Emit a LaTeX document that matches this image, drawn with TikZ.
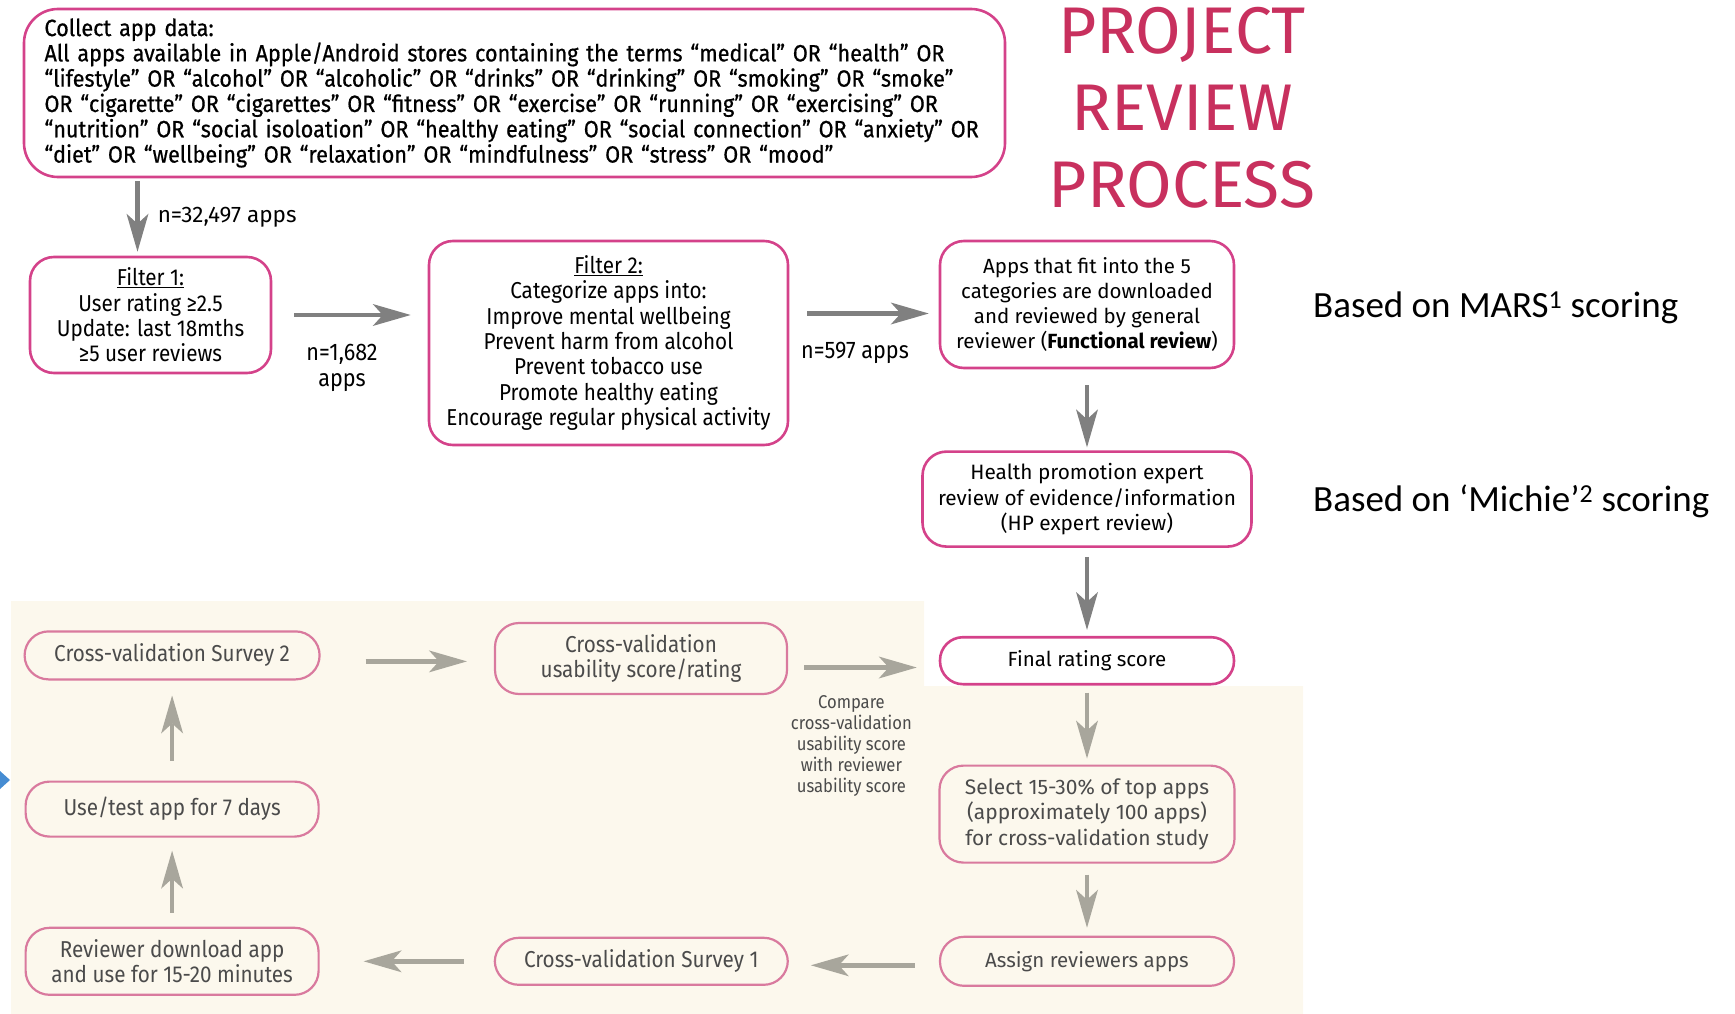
\documentclass[tikz,border=0pt]{standalone}
\usepackage{fontspec}
\setmainfont{Fira Sans}
\newfontfamily\condfont{Fira Sans}[FakeStretch=0.9]
\newfontfamily\condboldfont{Fira Sans}[FakeStretch=0.92,FakeBold=0.6]
\newfontfamily\notefont{Carlito}
\usetikzlibrary{positioning}
\usetikzlibrary{arrows.meta}
\definecolor{boxpink}{RGB}{212,66,138}
\definecolor{softpink}{RGB}{217,122,158}
\definecolor{titlered}{RGB}{200,48,94}
\definecolor{arrowgray}{RGB}{128,128,128}
\definecolor{sandgray}{RGB}{168,166,156}
\definecolor{sand}{RGB}{252,248,237}
\definecolor{textgray}{RGB}{75,75,75}
\definecolor{tipblue}{RGB}{70,140,210}

\begin{document}
\begin{tikzpicture}[x=1pt,y=-1pt,node distance=80pt,
  box/.style={draw=boxpink,line width=2.6pt,rounded corners=24pt,align=center,inner sep=0pt},
  cbox/.style={box,draw=softpink,line width=2.2pt,text=textgray},
  arr/.style={draw=arrowgray,line width=4.5pt,-{Stealth[length=38pt,width=22pt,inset=10pt,line width=0pt]}},
  sarr/.style={arr,draw=sandgray},
  lab/.style={inner sep=0pt,align=center}]
  \useasboundingbox (0,0) rectangle (1735,1014);
  % cross-validation area
  \fill[sand] (11,601) -- (924,601) -- (924,686) -- (1303,686) -- (1303,1014) -- (11,1014) -- cycle;
  \fill[tipblue] (0,771) -- (10,780) -- (0,789) -- cycle;

  \node[box,rounded corners=34pt,minimum width=981pt,minimum height=168pt,text width=940pt,align=left,
    font=\condboldfont\fontsize{23.5}{25.3}\selectfont](collect) at (514.5,93) {Collect app data:\\
    All apps available in Apple/Android stores containing the terms “medical” OR “health” OR\\
    “lifestyle” OR “alcohol” OR “alcoholic” OR “drinks” OR “drinking” OR “smoking” OR “smoke”\\
    OR “cigarette” OR “cigarettes” OR “fitness” OR “exercise” OR “running” OR “exercising” OR\\
    “nutrition” OR “social isoloation” OR “healthy eating” OR “social connection” OR “anxiety” OR\\
    “diet” OR “wellbeing” OR “relaxation” OR “mindfulness” OR “stress” OR “mood”};
  \node[text=titlered,align=center,inner sep=0pt,font=\fontsize{66}{77}\selectfont](title) at (1182,108) {PROJECT\\REVIEW\\PROCESS};

  \node[box,minimum width=241pt,minimum height=116pt,font=\condfont\fontsize{23}{25.3}\selectfont](filterone) at (150.5,315)
    {\underline{Filter 1:}\\User rating ≥2.5\\Update: last 18mths\\≥5 user reviews};
  \node[box,minimum width=359pt,minimum height=204pt,font=\condfont\fontsize{23}{25.3}\selectfont](filtertwo) at (608.5,343)
    {\underline{Filter 2:}\\Categorize apps into:\\Improve mental wellbeing\\Prevent harm from alcohol\\Prevent tobacco use\\Promote healthy eating\\Encourage regular physical activity};
  \node[box,minimum width=294pt,minimum height=127pt,font=\fontsize{20.5}{25.3}\selectfont](functional) at (1087,304.5)
    {Apps that fit into the 5\\categories are downloaded\\and reviewed by general\\reviewer (\textbf{Functional review})};
  \node[box,below=81pt of functional,minimum width=329pt,minimum height=95pt,font=\fontsize{20.8}{25.3}\selectfont](hpreview)
    {Health promotion expert\\review of evidence/information\\(HP expert review)};
  \node[box,below=88pt of hpreview,fill=white,rounded corners=23pt,minimum width=294pt,minimum height=47pt,font=\fontsize{20.5}{24}\selectfont](final)
    {Final rating score};
  \node[cbox,below=79pt of final,minimum width=295pt,minimum height=97pt,font=\fontsize{21}{25.3}\selectfont](select)
    {Select 15-30\% of top apps\\(approximately 100 apps)\\for cross-validation study};
  \node[cbox,below=72pt of select,minimum width=294pt,minimum height=49pt,font=\fontsize{20.5}{24}\selectfont](assign)
    {Assign reviewers apps};
  \node[cbox,left=150pt of assign,minimum width=293pt,minimum height=47pt,font=\condfont\fontsize{23}{25}\selectfont](surveyone)
    {Cross-validation Survey 1};
  \node[cbox,left=174pt of surveyone,minimum width=293pt,minimum height=67pt,font=\condfont\fontsize{23}{25}\selectfont](download)
    {Reviewer download app\\and use for 15-20 minutes};
  \node[cbox,above=89pt of download,minimum width=293pt,minimum height=55pt,font=\condfont\fontsize{23}{25}\selectfont](usetest)
    {Use/test app for 7 days};
  \node[cbox,above=100pt of usetest,minimum width=295pt,minimum height=48pt,font=\condfont\fontsize{23}{25}\selectfont](surveytwo)
    {Cross-validation Survey 2};
  \node[cbox,minimum width=292pt,minimum height=71pt,font=\condfont\fontsize{23}{25}\selectfont](cvscore) at (641,658.5)
    {Cross-validation\\usability score/rating};

  \node[inner sep=0pt,anchor=west,font=\notefont\fontsize{37}{40}\selectfont](marsnote) at (1313,308) {Based on MARS\textsuperscript{1} scoring};
  \node[inner sep=0pt,anchor=west,font=\notefont\fontsize{37}{40}\selectfont](michienote) at (1313,501) {Based on ‘Michie’\textsuperscript{2} scoring};

  \draw[arr,shorten <=3pt,shorten >=4pt] ([xshift=-13pt]filterone.north |- collect.south) -- node[lab,right=18pt,font=\fontsize{22.5}{26}\selectfont]{n=32,497 apps} ([xshift=-13pt]filterone.north);
  \draw[arr,shorten <=22pt,shorten >=17pt] (filterone) -- node[lab,below=27pt,xshift=-8pt,font=\condfont\fontsize{24}{26}\selectfont]{n=1,682\\apps} (filterone -| filtertwo.west);
  \draw[arr,shorten <=18pt,shorten >=10pt] ([yshift=-9pt]filtertwo.east |- functional.west) -- node[lab,below=26pt,xshift=-9pt,font=\condfont\fontsize{24}{26}\selectfont]{n=597 apps} ([yshift=-9pt]functional.west);
  \draw[arr,shorten <=16pt,shorten >=3pt] (functional) -- (hpreview);
  \draw[arr,shorten <=9pt,shorten >=6pt] (hpreview) -- (final);
  \draw[sarr,shorten <=7pt,shorten >=6pt] (final) -- (select);
  \draw[sarr,shorten <=11pt,shorten >=8pt] (select) -- (assign);
  \draw[sarr,shorten <=24pt,shorten >=22pt] ([yshift=-4pt]assign.west) -- ([yshift=-4pt]assign.west -| surveyone.east);
  \draw[sarr,shorten <=30pt,shorten >=44pt] (surveyone) -- (surveyone -| download.east);
  \draw[sarr,shorten <=14pt,shorten >=13pt] (download) -- (usetest);
  \draw[sarr,shorten <=20pt,shorten >=15pt] (usetest) -- (surveytwo);
  \draw[sarr,shorten <=45pt,shorten >=27pt] ([yshift=-6pt]surveytwo.east) -- ([yshift=-6pt]surveytwo.east -| cvscore.west);
  \draw[sarr,shorten <=16pt,shorten >=22pt] ([yshift=-9pt]cvscore.east) -- node[lab,below=26pt,xshift=-12pt,text=textgray,font=\condfont\fontsize{18.5}{21}\selectfont]{Compare\\cross-validation\\usability score\\with reviewer\\usability score} ([yshift=-9pt]cvscore.east -| final.west);
\end{tikzpicture}
\end{document}
